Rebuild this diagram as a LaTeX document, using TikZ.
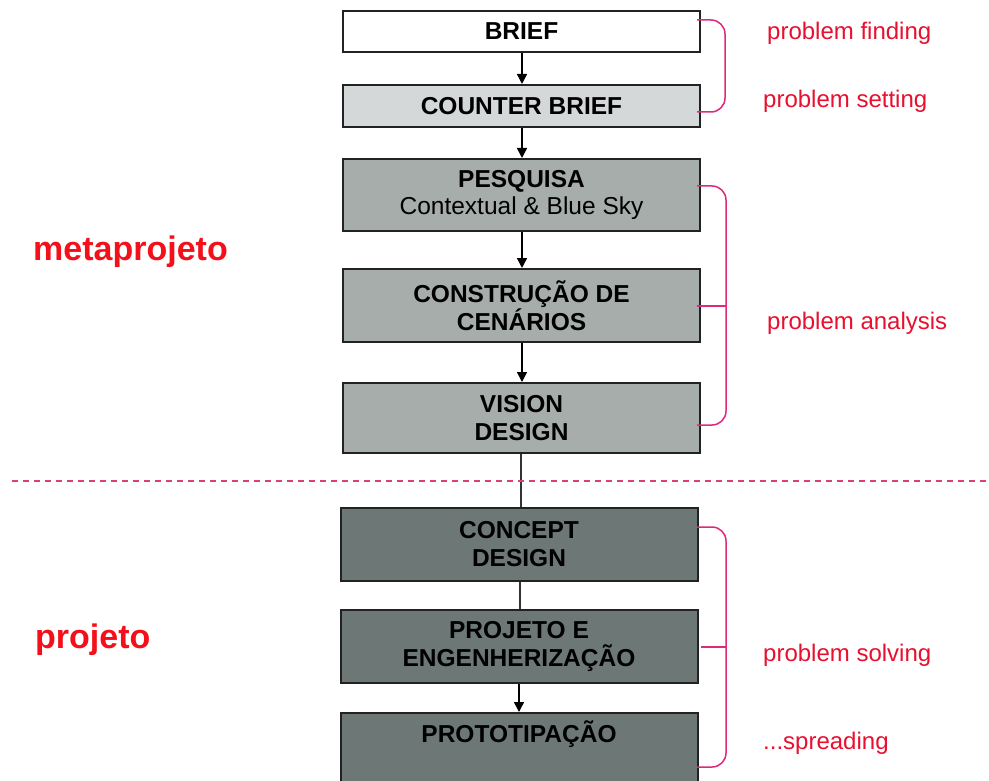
\documentclass[tikz,border=0pt]{standalone}
\usepackage{fontspec}
\setmainfont{Liberation Sans}
\usetikzlibrary{arrows.meta}
\definecolor{boxline}{HTML}{222222}
\definecolor{fillA}{HTML}{FFFFFF}
\definecolor{fillB}{HTML}{D4D8D8}
\definecolor{fillC}{HTML}{A7ADAB}
\definecolor{fillD}{HTML}{6D7775}
\definecolor{brk}{HTML}{DD2A7B}
\definecolor{lbl}{HTML}{E8102E}
\definecolor{big}{HTML}{F4101A}
\definecolor{sepcol}{HTML}{D8407A}
\begin{document}
\begin{tikzpicture}[x=1pt,y=-1pt,
  box/.style={draw=boxline, line width=2pt, rectangle, minimum width=357pt, inner sep=0pt, align=center,
     font=\fontsize{24.5}{28}\selectfont\bfseries},
  arr/.style={line width=1.5pt, draw=black, -{Triangle[width=10pt,length=10pt]}},
  plain/.style={line width=1.5pt, draw=black!80},
  bracket/.style={draw=brk, line width=1.5pt, rounded corners=14pt},
  tick/.style={draw=brk, line width=1.3pt},
  lab/.style={text=lbl, anchor=west, inner sep=0pt, font=\fontsize{24}{28}\selectfont},
  phase/.style={text=big, anchor=west, inner sep=0pt, font=\fontsize{34}{40}\selectfont\bfseries}]
\useasboundingbox (0,0) rectangle (989,781);
\fill[white] (0,0) rectangle (989,781);

% upper boxes
\node[box, fill=fillA, minimum height=41pt] (brief) at (521.5,31.5) {BRIEF};
\node[box, fill=fillB, minimum height=42pt] (counter) at (521.5,106) {COUNTER BRIEF};
\node[box, fill=fillC, minimum height=72pt] (pesq) at (521.5,195) {PESQUISA\\[-1pt]{\mdseries Contextual \& Blue Sky}};
\node[box, fill=fillC, minimum height=73pt] (constr) at (521.5,305.5) {CONSTRUÇÃO DE\\CENÁRIOS};
\node[box, fill=fillC, minimum height=70pt] (vision) at (521.5,418) {VISION\\DESIGN};

% lower boxes
\node[box, fill=fillD, minimum height=73pt] (concept) at (519,544.5) {CONCEPT\\DESIGN};
\node[box, fill=fillD, minimum height=73pt] (projeto) at (519,646.5) {PROJETO E\\ENGENHERIZAÇÃO};
\node[box, fill=fillD, minimum height=90pt, anchor=north] (proto) at (519,712) {};
\node[font=\fontsize{24.5}{28}\selectfont\bfseries, inner sep=0pt] (prototxt) at (519,734) {PROTOTIPAÇÃO};

% connectors
\draw[arr] (brief.south -| 522,0) -- (counter.north -| 522,0);
\draw[arr] (counter.south -| 522,0) -- (pesq.north -| 522,0);
\draw[arr] (pesq.south -| 522,0) -- (constr.north -| 522,0);
\draw[arr] (constr.south -| 522,0) -- (vision.north -| 522,0);
\draw[plain] (vision.south -| 521,0) -- (concept.north -| 521,0);
\draw[plain] (concept.south -| 520,0) -- (projeto.north -| 520,0);
\draw[arr] (projeto.south -| 519,0) -- (proto.north -| 519,0);

% dashed separator
\coordinate (dl) at (12,481);
\coordinate (dr) at (989,481);
\draw[draw=sepcol, line width=1.6pt, dash pattern=on 6pt off 5pt] (dl) -- (dr);

% brackets
\coordinate (b1a) at (697,20);
\coordinate (b1b) at (697,112);
\draw[bracket] (b1a) -- (725,20) -- (725,112) -- (b1b);

\coordinate (b2a) at (697,186);
\coordinate (b2b) at (697,425);
\coordinate (b2m) at (697,306);
\draw[bracket] (b2a) -- (726,186) -- (726,425) -- (b2b);
\draw[tick] (b2m) -- (726,306);

\coordinate (b3a) at (697,527);
\coordinate (b3b) at (697,767);
\coordinate (b3m) at (701,647);
\draw[bracket] (b3a) -- (726,527) -- (726,767) -- (b3b);
\draw[tick] (b3m) -- (726,647);

% labels
\node[lab] (l1) at (767,33) {problem finding};
\node[lab] (l2) at (763,101) {problem setting};
\node[lab] (l3) at (767,323) {problem analysis};
\node[lab] (l4) at (763,655) {problem solving};
\node[lab] (l5) at (763,743) {...spreading};

\node[phase] (meta) at (33,252) {metaprojeto};
\node[phase] (proj) at (35,640) {projeto};
\end{tikzpicture}
\end{document}
